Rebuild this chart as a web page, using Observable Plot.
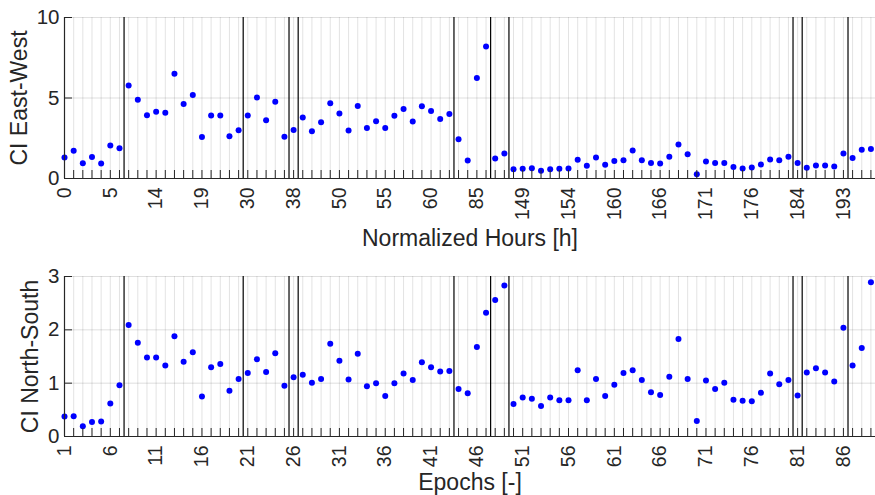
<!DOCTYPE html>
<html><head><meta charset="utf-8">
<script src="https://cdn.jsdelivr.net/npm/d3@7"></script>
<script src="https://cdn.jsdelivr.net/npm/@observablehq/plot@0.6"></script>
<style>
body{margin:0;background:#fff;}
#chart{width:875px;}
#chart svg{display:block;}
</style>
</head><body><div id="chart"></div>
<script>
const epochs = d3.range(1, 90);
const ciEastWest = [1.30,1.72,0.95,1.33,0.93,2.05,1.88,5.78,4.89,3.93,
  4.14,4.08,6.50,4.62,5.18,2.57,3.91,3.91,2.63,3.00,
  3.91,5.03,3.62,4.76,2.59,3.02,3.79,2.94,3.50,4.68,
  4.04,2.98,4.51,3.13,3.56,3.13,3.89,4.31,3.54,4.49,
  4.20,3.69,4.00,2.44,1.12,6.25,8.20,1.24,1.55,0.58,
  0.60,0.64,0.48,0.58,0.60,0.62,1.16,0.79,1.30,0.85,
  1.08,1.14,1.74,1.14,0.97,0.93,1.35,2.11,1.51,0.27,
  1.06,0.97,0.97,0.72,0.62,0.68,0.87,1.18,1.14,1.35,
  0.97,0.66,0.81,0.81,0.75,1.55,1.28,1.78,1.84];
const ciNorthSouth = [0.375,0.38,0.19,0.27,0.28,0.62,0.96,2.09,1.76,1.48,
  1.48,1.33,1.88,1.40,1.58,0.75,1.30,1.36,0.86,1.08,
  1.19,1.45,1.21,1.56,0.95,1.11,1.16,1.01,1.08,1.74,
  1.42,1.07,1.55,0.94,1.00,0.76,1.00,1.18,1.06,1.39,
  1.30,1.22,1.23,0.89,0.81,1.68,2.32,2.56,2.83,0.61,
  0.73,0.71,0.57,0.73,0.68,0.68,1.24,0.68,1.08,0.76,
  0.97,1.19,1.24,1.06,0.83,0.78,1.12,1.83,1.08,0.29,
  1.05,0.89,1.01,0.69,0.67,0.66,0.82,1.18,0.98,1.06,
  0.77,1.20,1.28,1.20,1.03,2.04,1.33,1.66,2.89];
const labelEpochs = [1,6,11,16,21,26,31,36,41,46,51,56,61,66,71,76,81,86];
const hourTickLabels = ["0","5","14","19","30","38","50","55","60","85","149","154","160","166","171","176","184","193"];
const epochTickLabels = ["1","6","11","16","21","26","31","36","41","46","51","56","61","66","71","76","81","86"];
const breakEpochs = [7.5,20.5,25.5,26.5,43.5,47.5,49.5,80.5,81.5,86.5];
const ewTicks = [0,5,10];
const nsTicks = [0,1,2,3];

const ink = "#262626";
const font = "'Liberation Sans', Arial, Helvetica, sans-serif";

function panel({values, yDomain, yTicks, tickLabels, yLabel, xLabel, height, marginTop, marginBottom, yLabelDx, xLabelDy}) {
  const frameH = height - marginTop - marginBottom;
  const frameW = 875 - 64;
  const data = epochs.map((e, i) => ({epoch: e, value: values[i]}));
  const labelMap = new Map(labelEpochs.map((e, i) => [e, tickLabels[i]]));
  return Plot.plot({
    width: 875, height, marginLeft: 64, marginRight: 0, marginTop, marginBottom,
    style: {fontFamily: font, fontSize: "20px", color: ink, background: "#fff", overflow: "visible"},
    x: {domain: [1, 89.5], axis: null},
    y: {domain: yDomain, axis: null},
    marks: [
      Plot.gridX(epochs, {stroke: ink, strokeOpacity: 0.13}),
      Plot.gridY(yTicks, {stroke: ink, strokeOpacity: 0.15}),
      Plot.ruleX(breakEpochs, {stroke: "#000", strokeWidth: 1.2}),
      Plot.dot(data, {x: "epoch", y: "value", r: 3, fill: "#0000ff", stroke: null}),
      Plot.ruleY([yDomain[0]], {stroke: ink, strokeWidth: 1.2}),
      Plot.ruleX([1], {stroke: ink, strokeWidth: 1.2}),
      Plot.tickX(epochs, {x: d => d, insetTop: frameH - 8, stroke: ink}),
      Plot.tickY(yTicks, {y: d => d, insetRight: frameW - 8, stroke: ink}),
      Plot.text(labelEpochs, {x: d => d, frameAnchor: "bottom", dy: 9, rotate: -90, textAnchor: "end", lineAnchor: "middle",
        text: d => labelMap.get(d), fontSize: 19.5, fill: ink}),
      Plot.text(yTicks, {y: d => d, frameAnchor: "left", dx: -5, textAnchor: "end", lineAnchor: "middle",
        text: d => String(d), fontSize: 20.5, fill: ink}),
      Plot.text([xLabel], {frameAnchor: "bottom", dy: xLabelDy, lineAnchor: "bottom", fontSize: 23, fill: ink}),
      Plot.text([yLabel], {frameAnchor: "left", rotate: -90, dx: yLabelDx, lineAnchor: "bottom", textAnchor: "middle", fontSize: 23, fill: ink})
    ]
  });
}

const chart = document.getElementById("chart");
chart.append(panel({values: ciEastWest, yDomain: [0, 10], yTicks: ewTicks, tickLabels: hourTickLabels,
  yLabel: "CI East-West", xLabel: "Normalized Hours [h]", height: 250, marginTop: 17, marginBottom: 72, yLabelDx: -38, xLabelDy: 67}));
chart.append(panel({values: ciNorthSouth, yDomain: [0, 3], yTicks: nsTicks, tickLabels: epochTickLabels,
  yLabel: "CI North-South", xLabel: "Epochs [-]", height: 245, marginTop: 26, marginBottom: 59, yLabelDx: -26.5, xLabelDy: 53}));
</script>
</body></html>
